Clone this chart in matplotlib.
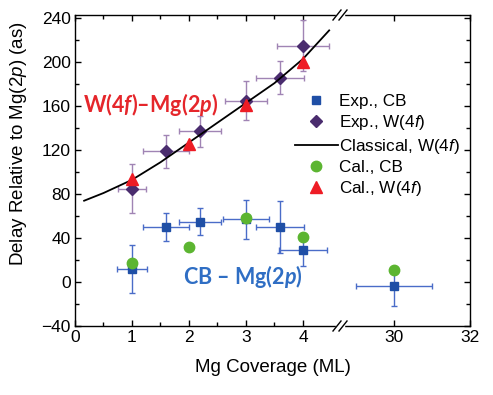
import matplotlib
matplotlib.use('Agg')
import matplotlib.pyplot as plt
from matplotlib.lines import Line2D
from matplotlib.patches import Rectangle
from matplotlib.ticker import MultipleLocator, FixedLocator

plt.rcParams['font.family'] = ['Liberation Sans', 'DejaVu Sans']
plt.rcParams['mathtext.fontset'] = 'custom'
plt.rcParams['mathtext.rm'] = 'Liberation Sans'
plt.rcParams['mathtext.it'] = 'Liberation Sans:italic'
plt.rcParams['mathtext.bfit'] = 'Lato:italic:bold'

# Експеримент, W(4f)
exp_w_x = [1, 1.6, 2.2, 3, 3.6, 4]
exp_w_y = [85, 119, 137, 165, 186, 215]
exp_w_xerr = [0.25, 0.4, 0.37, 0.37, 0.42, 0.45]
exp_w_yerr = [22, 15, 14, 18, 15, 23]

# Експеримент, CB
exp_cb_x = [1, 1.6, 2.2, 3, 3.6, 4, 30]
exp_cb_y = [12, 50, 55, 57, 50, 29, -4]
exp_cb_xerr = [0.26, 0.4, 0.37, 0.4, 0.42, 0.42, 1.0]
exp_cb_yerr = [22, 13, 12, 18, 24, 14, 18]

# Розрахунок
cal_cb_x = [1, 2, 3, 4, 30]
cal_cb_y = [17, 32, 58, 41, 11]
cal_w_x = [1, 2, 3, 4]
cal_w_y = [94, 126, 161, 200]

# Класична модель
classical_x = [0.16, 0.5, 1, 1.5, 2, 2.5, 3, 3.5, 4, 4.46]
classical_y = [74, 81, 93, 109, 127, 145, 163, 181, 203, 229]

c_blue = '#1f4fa6'
c_blue_err = '#4a6cc8'
c_purple = '#4a2c6e'
c_purple_err = '#a084b4'
c_green = '#5cb531'
c_red = '#ee1c25'

W, H = 493, 395
fig = plt.figure(figsize=(W / 100, H / 100), dpi=100)
x0, x1, xs = 75, 470, 340
y_top, y_bot = 15, 326
ax1 = fig.add_axes([x0 / W, 1 - y_bot / H, (xs - x0) / W, (y_bot - y_top) / H])
ax2 = fig.add_axes([xs / W, 1 - y_bot / H, (x1 - xs) / W, (y_bot - y_top) / H], sharey=ax1)

for ax in (ax1, ax2):
    ax.errorbar(exp_cb_x, exp_cb_y, xerr=exp_cb_xerr, yerr=exp_cb_yerr, fmt='none',
                ecolor=c_blue_err, elinewidth=1, capsize=2.5, capthick=1, zorder=2)
    ax.errorbar(exp_w_x, exp_w_y, xerr=exp_w_xerr, yerr=exp_w_yerr, fmt='none',
                ecolor=c_purple_err, elinewidth=1, capsize=2.5, capthick=1, zorder=2)
    ax.plot(exp_cb_x, exp_cb_y, 's', color=c_blue, ms=6, ls='none', zorder=3, label='Exp., CB')
    ax.plot(exp_w_x, exp_w_y, 'D', color=c_purple, ms=6.5, ls='none', zorder=4,
            label='Exp., W(4$\\mathit{f}$)')
    ax.plot(classical_x, classical_y, '-', color='black', lw=1.3, zorder=5,
            label='Classical, W(4$\\mathit{f}$)')
    ax.plot(cal_cb_x, cal_cb_y, 'o', color=c_green, ms=7.5, ls='none', zorder=6, label='Cal., CB')
    ax.plot(cal_w_x, cal_w_y, '^', color=c_red, ms=8.5, ls='none', zorder=6,
            label='Cal., W(4$\\mathit{f}$)')
    for s in ax.spines.values():
        s.set_linewidth(1.0)

ax1.set_xlim(0, 4.65)
ax2.set_xlim(28.58, 32)
ax1.set_ylim(-40, 243)

ax1.set_xticks([0, 1, 2, 3, 4])
ax1.xaxis.set_minor_locator(FixedLocator([0.5, 1.5, 2.5, 3.5]))
ax2.set_xticks([30, 32])
ax1.set_yticks(range(-40, 241, 40))
ax1.yaxis.set_minor_locator(MultipleLocator(20))

ax1.spines['right'].set_visible(False)
ax2.spines['left'].set_visible(False)
ax1.tick_params(which='both', direction='in', top=True, right=False, labelsize=12.5, pad=3)
ax2.tick_params(which='both', direction='in', top=True, left=False, right=True,
                labelleft=False, labelsize=12.5, pad=3)
for ax in (ax1, ax2):
    ax.tick_params(which='major', length=4.5, width=1)
    ax.tick_params(which='minor', length=3, width=1)

# Підписи на графіку
ax1.text(0.14, 162, 'W(4$\\mathbfit{f}$)–Mg(2$\\mathbfit{p}$)', color='#e5262b',
         fontsize=15.5, family='Lato', weight='bold', ha='left', va='center', zorder=7)
ax1.text(1.9, 5, 'CB – Mg(2$\\mathbfit{p}$)', color='#2f6ec4',
         fontsize=15.5, family='Lato', weight='bold', ha='left', va='center', zorder=7)

fig.text(19 / W, 1 - 144 / H, 'Delay Relative to Mg(2$\\mathit{p}$) (as)', rotation=90,
         ha='center', va='center', fontsize=13.5)
fig.text(273 / W, 1 - 367 / H, 'Mg Coverage (ML)', ha='center', va='center', fontsize=13.5)

handles, labels = ax1.get_legend_handles_labels()
fig.legend(handles, labels, loc='upper left', bbox_to_anchor=(295 / W, 1 - 94 / H),
           frameon=False, fontsize=12.3, handlelength=2.5, handletextpad=0.1,
           labelspacing=0.25, borderpad=0, borderaxespad=0)

# Розрив осі
for yp in (y_top, y_bot):
    fig.add_artist(Rectangle(((xs - 4) / W, 1 - (yp + 2) / H), 8 / W, 4 / H,
                             transform=fig.transFigure, color='white', zorder=20))
    for dx in (-3, 3):
        fig.add_artist(Line2D([(xs + dx - 4) / W, (xs + dx + 4) / W],
                              [1 - (yp + 5) / H, 1 - (yp - 5) / H],
                              transform=fig.transFigure, color='black', lw=1, zorder=21))

plt.savefig('out.png', dpi=100)
